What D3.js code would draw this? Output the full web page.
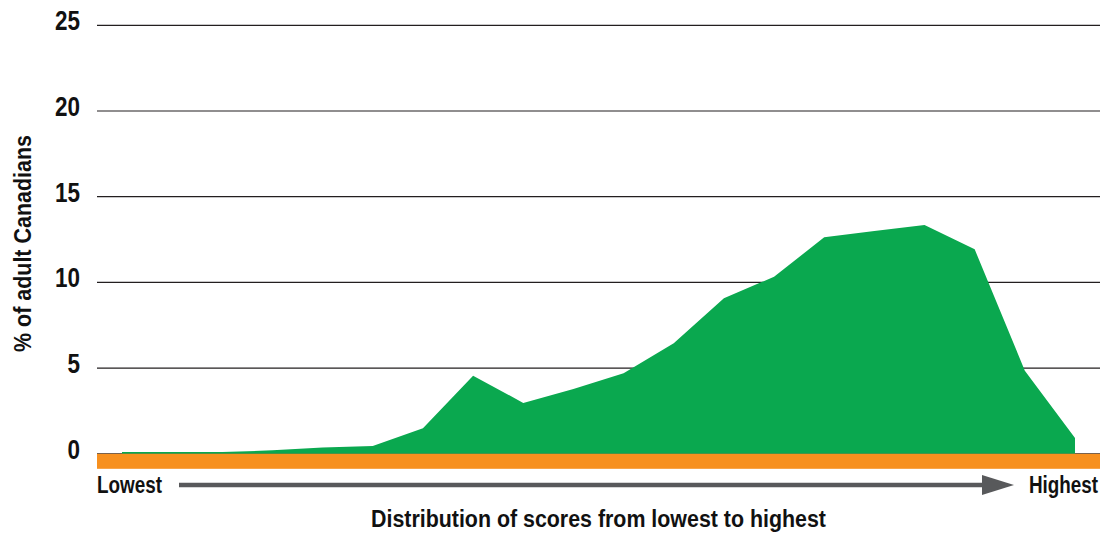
<!DOCTYPE html>
<html>
<head>
  <meta charset="utf-8">
  <title>Distribution of scores</title>
  <style type="text/css">
  body { margin: 0; background: #fff; }
  text { font-family: "Liberation Sans", Arial, sans-serif; font-weight: bold; fill: #111; }
  </style>
</head>
<body>
<script src="https://d3js.org/d3.v7.min.js"></script>
<div id="chart"></div>
<script>

// score groups, lowest to highest (20 steps)
var groups = d3.range(20);
var percent = [0.1, 0.1, 0.1, 0.2, 0.37, 0.45, 1.49, 4.56, 2.97, 3.78, 4.7, 6.45,
               9.07, 10.33, 12.63, 13.0, 13.35, 11.93, 4.85, 0.92];
var yTicks = [0, 5, 10, 15, 20, 25];

var width = 1107,
    height = 536;

var svg = d3.select("#chart")
  .append("svg")
    .attr("width", width)
    .attr("height", height);

var x = d3.scaleLinear()
  .domain([0, groups.length - 1])
  .range([122, 1075]);

var y = d3.scaleLinear()
  .domain([0, 25])
  .range([453.8, 25.3]);

// condensed look: squeeze the regular bold font to the widths in the picture
function narrow(sel, w) {
  sel.attr("textLength", w).attr("lengthAdjust", "spacingAndGlyphs");
}

// gridlines
svg.append("g")
  .selectAll("line")
  .data(yTicks)
  .enter()
  .append("line")
    .attr("x1", 97)
    .attr("x2", 1100)
    .attr("y1", function(d) { return y(d); })
    .attr("y2", function(d) { return y(d); })
    .style("stroke", "#231f20")
    .style("stroke-width", 1.2);

// tick labels
svg.append("g")
  .selectAll("text")
  .data(yTicks)
  .enter()
  .append("text")
    .attr("x", 80)
    .attr("y", function(d) { return y(d) + 5; })
    .attr("text-anchor", "end")
    .attr("textLength", function(d) { return d < 10 ? 12.5 : 25; })
    .attr("lengthAdjust", "spacingAndGlyphs")
    .style("font-size", "28px")
    .text(function(d) { return d; });

// the area
var area = d3.area()
  .x(function(d, i) { return x(i); })
  .y0(y(0))
  .y1(function(d) { return y(d); });

svg.append("path")
  .datum(percent)
  .attr("d", area)
  .attr("fill", "#0aa84f");

// orange baseline band
svg.append("rect")
  .attr("x", 97)
  .attr("y", y(0))
  .attr("width", 1100 - 97)
  .attr("height", 15)
  .attr("fill", "#f7901e");

// arrow
svg.append("line")
  .attr("x1", 179)
  .attr("x2", 985)
  .attr("y1", 485)
  .attr("y2", 485)
  .style("stroke", "#58595b")
  .style("stroke-width", 4.5);

svg.append("path")
  .attr("d", "M982,475 L1014,485 L982,495 Z")
  .attr("fill", "#58595b");

svg.append("text")
  .attr("x", 97)
  .attr("y", 493)
  .style("font-size", "23px")
  .call(narrow, 65)
  .text("Lowest");

// squeezed with a transform so its box stays inside the page
svg.append("text")
  .attr("transform", "translate(1029, 493) scale(0.82, 1)")
  .style("font-size", "23px")
  .text("Highest");

// axis titles
svg.append("text")
  .attr("x", 371)
  .attr("y", 527)
  .style("font-size", "23px")
  .call(narrow, 455)
  .text("Distribution of scores from lowest to highest");

svg.append("text")
  .attr("transform", "translate(31, 352) rotate(-90)")
  .style("font-size", "23px")
  .call(narrow, 217)
  .text("% of adult Canadians");

</script>
</body>
</html>
